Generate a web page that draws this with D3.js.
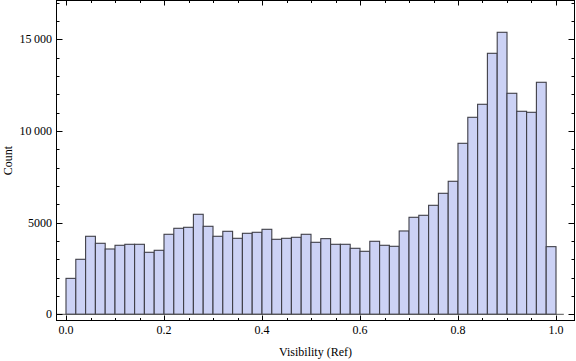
<!DOCTYPE html>
<html>
<head>
<meta charset="utf-8">
<script src="https://cdn.jsdelivr.net/npm/d3@7"></script>
<style>
  html, body { margin: 0; padding: 0; background: #fff; }
  svg { display: block; }
  text { font-family: "Liberation Serif", "Times New Roman", serif; fill: #000; }
</style>
</head>
<body>
<svg id="chart" width="576" height="361"></svg>
<script>
// ---- data ----
const binWidth = 0.02;
const binStarts = d3.range(50).map(i => +(i * binWidth).toFixed(2));
const counts = [
  1960, 3000, 4255, 3873, 3562, 3764, 3818, 3818, 3382, 3491,
  4364, 4691, 4745, 5455, 4800, 4255, 4527, 4145, 4418, 4473,
  4636, 4091, 4145, 4200, 4364, 3927, 4127, 3818, 3818, 3600,
  3436, 3982, 3764, 3709, 4545, 5291, 5400, 5945, 6600, 7255,
  9327, 10745, 11455, 14236, 15382, 12055, 11073, 11018, 12655, 3690
];
const xMajorTicks = [0, 0.2, 0.4, 0.6, 0.8, 1.0];
const xTickLabels = ["0.0", "0.2", "0.4", "0.6", "0.8", "1.0"];
const xMinorTicks = d3.range(0, 1.0001, 0.05).map(v => +v.toFixed(2));
const yMajorTicks = [0, 5000, 10000, 15000];
const yTickLabels = ["0", "5000", "10\u2009000", "15\u2009000"];
const yMinorTicks = d3.range(0, 17001, 1000);
const xTitle = "Visibility (Ref)";
const yTitle = "Count";

// ---- layout ----
const svg = d3.select("#chart");
const x = d3.scaleLinear().domain([0, 1]).range([66, 556]);
const y = d3.scaleLinear().domain([0, 15000]).range([314.3, 39.3]);
const frame = { left: 56.5, right: 574.5, top: 0.5, bottom: 320.5 };

// bars
svg.append("g").selectAll("rect")
  .data(counts)
  .join("rect")
  .attr("x", (d, i) => x(binStarts[i]))
  .attr("width", (d, i) => x(binStarts[i] + binWidth) - x(binStarts[i]))
  .attr("y", d => y(d))
  .attr("height", d => y(0) - y(d))
  .attr("fill", "rgb(204,210,245)")
  .attr("stroke", "#3f3f48")
  .attr("stroke-width", 1.1);

// zero axis line
svg.append("line")
  .attr("x1", frame.left).attr("x2", x(1.016))
  .attr("y1", y(0)).attr("y2", y(0))
  .attr("stroke", "#555").attr("stroke-width", 1);

// frame
svg.append("rect")
  .attr("x", frame.left).attr("y", frame.top)
  .attr("width", frame.right - frame.left)
  .attr("height", frame.bottom - frame.top)
  .attr("fill", "none").attr("stroke", "#000").attr("stroke-width", 1);

const tickG = svg.append("g").attr("stroke", "#000").attr("stroke-width", 1);
const majLen = 5, minLen = 2.5;
// x ticks (bottom & top)
xMinorTicks.forEach(v => {
  const isMaj = xMajorTicks.some(m => Math.abs(m - v) < 1e-9);
  const L = isMaj ? majLen : minLen;
  const px = Math.round(x(v)) + 0.5;
  tickG.append("line").attr("x1", px).attr("x2", px)
    .attr("y1", frame.bottom).attr("y2", frame.bottom - L);
  tickG.append("line").attr("x1", px).attr("x2", px)
    .attr("y1", frame.top).attr("y2", frame.top + L);
});
// y ticks (left & right)
yMinorTicks.forEach(v => {
  const isMaj = yMajorTicks.includes(v);
  const L = isMaj ? majLen + 1 : minLen + 0.5;
  const py = Math.round(y(v)) + 0.5;
  if (py < frame.top + 1) return;
  tickG.append("line").attr("y1", py).attr("y2", py)
    .attr("x1", frame.left).attr("x2", frame.left + L);
  tickG.append("line").attr("y1", py).attr("y2", py)
    .attr("x1", frame.right).attr("x2", frame.right - L);
});

// tick labels
svg.append("g").selectAll("text")
  .data(xMajorTicks)
  .join("text")
  .attr("x", d => x(d))
  .attr("y", 334)
  .attr("text-anchor", "middle")
  .attr("font-size", 12)
  .text((d, i) => xTickLabels[i]);

svg.append("g").selectAll("text")
  .data(yMajorTicks)
  .join("text")
  .attr("x", 52)
  .attr("y", d => y(d) + 4)
  .attr("text-anchor", "end")
  .attr("font-size", 12)
  .text((d, i) => yTickLabels[i]);

// axis titles
svg.append("text")
  .attr("x", (frame.left + frame.right) / 2)
  .attr("y", 356)
  .attr("text-anchor", "middle")
  .attr("font-size", 12)
  .text(xTitle);

svg.append("text")
  .attr("transform", `translate(12, ${(frame.top + frame.bottom) / 2}) rotate(-90)`)
  .attr("text-anchor", "middle")
  .attr("font-size", 12)
  .text(yTitle);
</script>
</body>
</html>
